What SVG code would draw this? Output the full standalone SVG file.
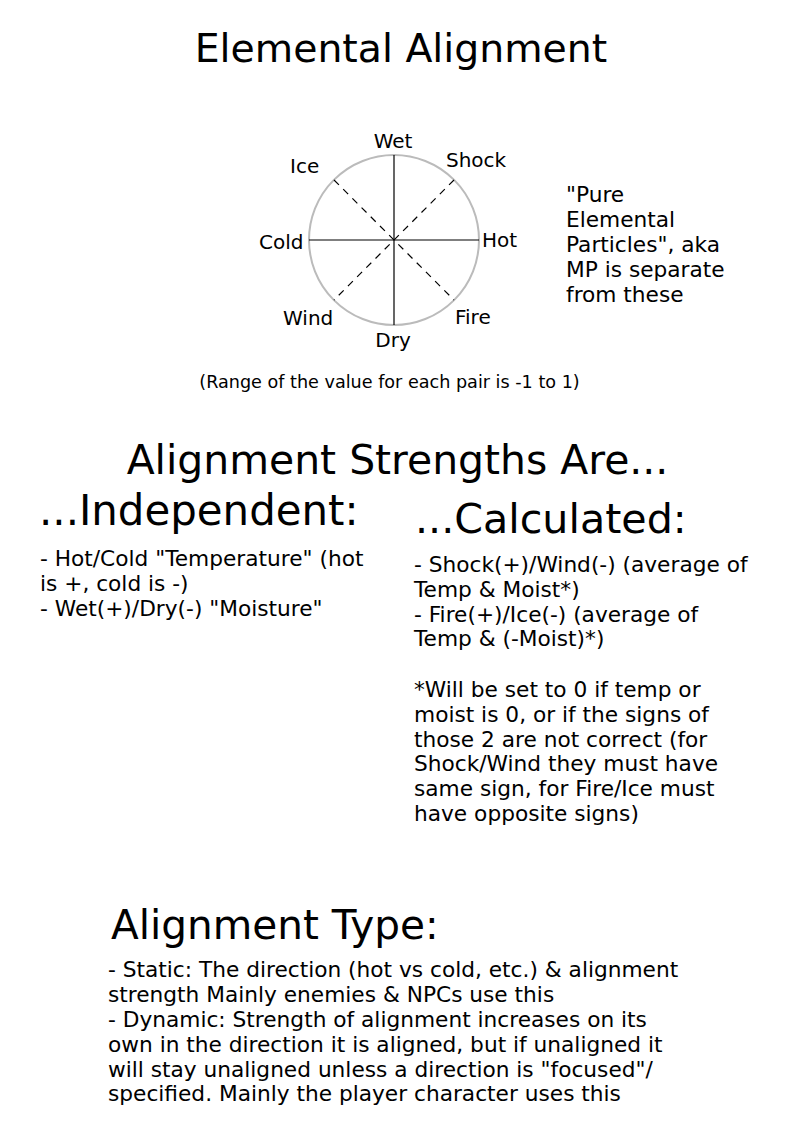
<svg xmlns="http://www.w3.org/2000/svg" width="794" height="1123" viewBox="0 0 794 1123">
<style>
text{font-family:"DejaVu Sans",Verdana,sans-serif;fill:#000}
.h{font-size:41px}
.b{font-size:21.7px}
.l{font-size:20px}
.s{font-size:17.6px}
.ax{stroke:#000;stroke-width:1.2;fill:none}
.dg{stroke:#000;stroke-width:1.2;stroke-dasharray:7 6;fill:none}
</style>
<rect width="794" height="1123" fill="#fff"/>
<g id="title"><text class="h" x="401" y="62" text-anchor="middle" style="font-size:39.4px">Elemental Alignment</text></g>
<g id="wheel">
<circle cx="394" cy="240" r="85" fill="none" stroke="#bbb" stroke-width="2"/>
</g>
<g id="connectors">
<line class="ax" x1="309" y1="240" x2="479" y2="240"/>
<line class="ax" x1="394" y1="155" x2="394" y2="325"/>
<line class="dg" x1="334" y1="180" x2="454" y2="300"/>
<line class="dg" x1="454" y1="180" x2="334" y2="300"/>
</g>
<g id="labels">
<text class="l" x="393" y="148" text-anchor="middle">Wet</text>
<text class="l" x="446" y="167">Shock</text>
<text class="l" x="290" y="173">Ice</text>
<text class="l" x="259" y="249">Cold</text>
<text class="l" x="482" y="247">Hot</text>
<text class="l" x="283" y="325">Wind</text>
<text class="l" x="455" y="324">Fire</text>
<text class="l" x="393" y="347" text-anchor="middle">Dry</text>
</g>
<g id="note">
<text class="b" x="566" y="202">"Pure</text>
<text class="b" x="566" y="227">Elemental</text>
<text class="b" x="566" y="252">Particles", aka</text>
<text class="b" x="566" y="277">MP is separate</text>
<text class="b" x="566" y="302">from these</text>
</g>
<g id="range"><text class="s" x="389.5" y="388" text-anchor="middle">(Range of the value for each pair is -1 to 1)</text></g>
<g id="strengths"><text class="h" x="397.5" y="474" text-anchor="middle" style="font-size:40.9px">Alignment Strengths Are...</text></g>
<g id="independent">
<text class="h" x="39" y="525" style="font-size:41.9px">...Independent:</text>
<text class="b" x="40" y="566">- Hot/Cold "Temperature" (hot</text>
<text class="b" x="40" y="591">is +, cold is -)</text>
<text class="b" x="40" y="616">- Wet(+)/Dry(-) "Moisture"</text>
</g>
<g id="calculated">
<text class="h" x="415" y="533" style="font-size:41.2px">...Calculated:</text>
<text class="b" x="414" y="572">- Shock(+)/Wind(-) (average of</text>
<text class="b" x="414" y="597">Temp &amp; Moist*)</text>
<text class="b" x="414" y="622">- Fire(+)/Ice(-) (average of</text>
<text class="b" x="414" y="646">Temp &amp; (-Moist)*)</text>
<text class="b" x="414" y="697">*Will be set to 0 if temp or</text>
<text class="b" x="414" y="722">moist is 0, or if the signs of</text>
<text class="b" x="414" y="747">those 2 are not correct (for</text>
<text class="b" x="414" y="771">Shock/Wind they must have</text>
<text class="b" x="414" y="796">same sign, for Fire/Ice must</text>
<text class="b" x="414" y="821">have opposite signs)</text>
</g>
<g id="type">
<text class="h" x="111" y="939" style="font-size:40.6px">Alignment Type:</text>
<text class="b" x="108" y="977">- Static: The direction (hot vs cold, etc.) &amp; alignment</text>
<text class="b" x="108" y="1002">strength Mainly enemies &amp; NPCs use this</text>
<text class="b" x="108" y="1027">- Dynamic: Strength of alignment increases on its</text>
<text class="b" x="108" y="1052">own in the direction it is aligned, but if unaligned it</text>
<text class="b" x="108" y="1077">will stay unaligned unless a direction is "focused"/</text>
<text class="b" x="108" y="1101">specified. Mainly the player character uses this</text>
</g>
</svg>
